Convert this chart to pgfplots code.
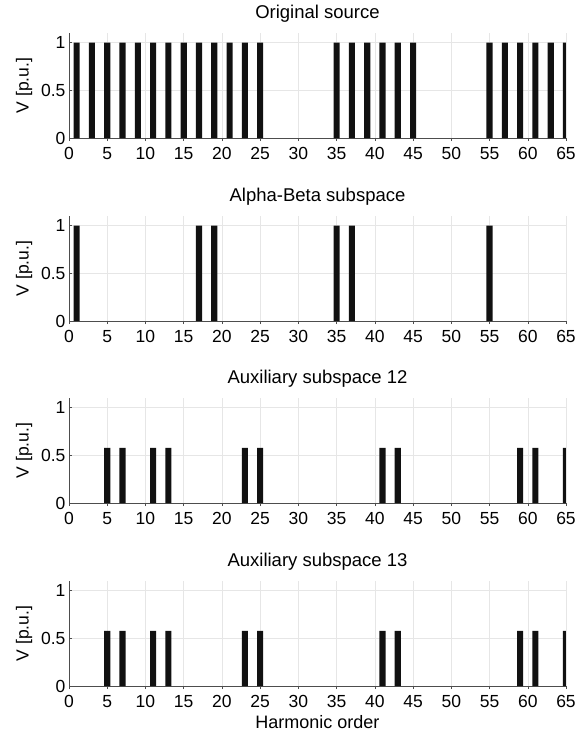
\documentclass[border=0pt]{standalone}
\usepackage{fontspec}
\setmainfont{Liberation Sans}
\usepackage{pgfplots}
\pgfplotsset{compat=1.18}
\definecolor{barc}{HTML}{111111}
\definecolor{gridc}{HTML}{E6E6E6}
\definecolor{axc}{HTML}{4D4D4D}
\pgfplotsset{
  sub/.style={
    scale only axis, width=497pt, height=105pt,
    xmin=0, xmax=65, ymin=0, ymax=1.1,
    xtick={0,5,...,65}, ytick={0,0.5,1},
    grid=major, major grid style={gridc, line width=0.5pt},
    axis x line*=bottom, axis y line*=left,
    axis line style={axc, line width=0.6pt},
    tick align=inside, major tick length=3pt,
    tick style={axc, line width=0.5pt},
    ybar, bar width=0.8,
    /pgf/number format/assume math mode=true,
    ticklabel style={font=\fontsize{17.5}{17.5}\selectfont, text=black},
    xticklabel style={yshift=-3pt},
    yticklabel style={/pgf/number format/fixed},
    ylabel={V [p.u.]},
    ylabel style={font=\fontsize{17.5}{17.5}\selectfont, at={(axis description cs:-0.0905,0.5)}, anchor=center},
    title style={font=\fontsize{18.5}{18.5}\selectfont, at={(0.5,1)}, anchor=base, inner sep=0pt, yshift=9pt},
    axis background/.style={fill=white},
  },
  bars/.style={fill=barc, draw=none},
}
\begin{document}
\begin{tikzpicture}
\path[use as bounding box] (0,0) rectangle (587pt,-734pt);
\begin{axis}[sub, at={(69pt,-138pt)}, anchor=south west, title={Original source}]
\addplot[bars] coordinates {(1,1) (3,1) (5,1) (7,1) (9,1) (11,1) (13,1) (15,1) (17,1) (19,1) (21,1) (23,1) (25,1) (35,1) (37,1) (39,1) (41,1) (43,1) (45,1) (55,1) (57,1) (59,1) (61,1) (63,1) (65,1)};
\end{axis}
\begin{axis}[sub, at={(69pt,-321pt)}, anchor=south west, title={Alpha-Beta subspace}]
\addplot[bars] coordinates {(1,1) (17,1) (19,1) (35,1) (37,1) (55,1)};
\end{axis}
\begin{axis}[sub, at={(69pt,-503pt)}, anchor=south west, title={Auxiliary subspace 12}]
\addplot[bars] coordinates {(5,0.577) (7,0.577) (11,0.577) (13,0.577) (23,0.577) (25,0.577) (41,0.577) (43,0.577) (59,0.577) (61,0.577) (65,0.577)};
\end{axis}
\begin{axis}[sub, at={(69pt,-686pt)}, anchor=south west, title={Auxiliary subspace 13},
  xlabel={Harmonic order},
  xlabel style={font=\fontsize{18}{18}\selectfont, at={(axis description cs:0.5,0)}, anchor=center, yshift=-36pt}]
\addplot[bars] coordinates {(5,0.577) (7,0.577) (11,0.577) (13,0.577) (23,0.577) (25,0.577) (41,0.577) (43,0.577) (59,0.577) (61,0.577) (65,0.577)};
\end{axis}
\end{tikzpicture}
\end{document}
